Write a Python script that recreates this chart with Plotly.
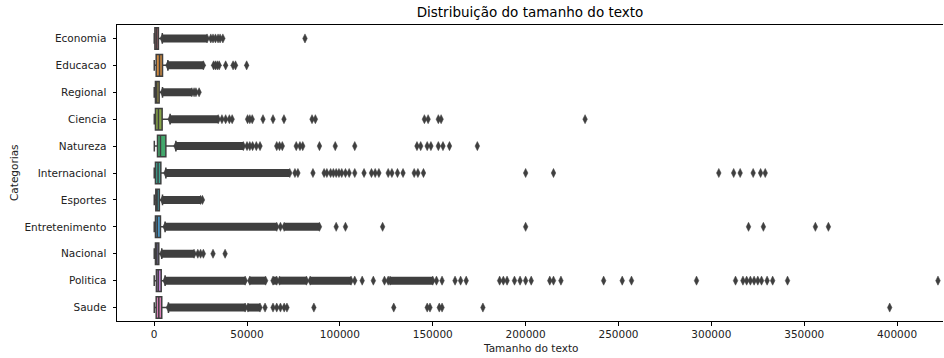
import plotly.graph_objects as go

# Categories, top to bottom
categories = ["Economia", "Educacao", "Regional", "Ciencia", "Natureza", "Internacional",
              "Esportes", "Entretenimento", "Nacional", "Politica", "Saude"]

# Box statistics (text length, characters)
q1 = [400, 1100, 700, 700, 1800, 700, 900, 700, 700, 1200, 1100]
median = [1300, 2900, 1400, 2300, 3400, 2100, 1600, 1700, 1500, 2200, 2500]
q3 = [2300, 4500, 2700, 4300, 6300, 3600, 2800, 3400, 2500, 3800, 4100]
whisker_lo = [50, 60, 40, 80, 90, 50, 60, 40, 50, 40, 70]
whisker_hi = [4400, 7400, 4500, 8600, 11700, 6300, 4500, 5900, 4100, 5900, 7700]

# Stretches where outliers overlap into a continuous band: (start, end)
dense_runs = [
    [(4400, 28500)],
    [(7400, 26500)],
    [(4500, 20300)],
    [(8600, 34500)],
    [(11700, 48000)],
    [(6300, 73000)],
    [(4500, 25000)],
    [(5900, 66000), (70000, 89000)],
    [(4100, 21500)],
    [(5900, 49000), (51500, 60000), (64000, 66000), (67500, 82000), (84000, 106000), (127000, 150000)],
    [(7700, 49000), (50500, 57000)],
]

# Individual outliers
outliers = [
    [30500, 31700, 33000, 34400, 35500, 37000, 81200],
    [32000, 33000, 34000, 35000, 38500, 42500, 43800, 49800],
    [21500, 22500, 24200],
    [36500, 38500, 40500, 42000, 50300, 51500, 52800, 58600, 64000, 69900, 85000, 86800,
     145500, 147500, 153000, 154500, 232000],
    [50000, 51500, 53000, 55000, 57000, 66000, 67500, 69000, 76500, 78500, 80000, 89000,
     97500, 108000, 141500, 143500, 147000, 149000, 153000, 155500, 159000, 174000],
    [75800, 77400, 85500, 91500, 93000, 95000, 96500, 98000, 99500, 101000, 103000, 105000,
     108000, 113000, 117000, 119000, 121000, 126000, 128000, 131000, 134000, 140000, 142000,
     145000, 200000, 215000, 304000, 312000, 315500, 322500, 326500, 329000],
    [26000],
    [68000, 98000, 103000, 123000, 200000, 320000, 328000, 356000, 363000],
    [23500, 25000, 26500, 31700, 38200],
    [108000, 112000, 118000, 124000, 126000, 152000, 155000, 162000, 165000, 168000, 186000,
     188000, 190000, 194000, 197000, 200000, 203000, 213000, 215000, 219000, 242000, 252000,
     257000, 292000, 313000, 317000, 319000, 321000, 323000, 325000, 327000, 330000, 333000,
     341000, 422000],
    [59700, 64000, 66000, 68000, 70000, 71500, 86000, 129000, 147000, 148500, 153500, 155000,
     177000, 396000],
]

box_colors = ["#d8737f", "#cf8a40", "#a59a45", "#87a547", "#43a86c", "#3fa592",
              "#45a0ae", "#4b9acb", "#9f8bd6", "#c486d8", "#d97fb6"]

x_ticks = [0, 50000, 100000, 150000, 200000, 250000, 300000, 350000, 400000]

GRAY = "#3f3f3f"
FONT = "DejaVu Sans"
TICK_SIZE = 10.5

fig = go.Figure()

for i, cat in enumerate(categories):
    fig.add_trace(go.Box(
        y=[cat], q1=[q1[i]], median=[median[i]], q3=[q3[i]],
        lowerfence=[whisker_lo[i]], upperfence=[whisker_hi[i]],
        orientation="h", boxpoints=False, width=0.8, whiskerwidth=0.5,
        fillcolor=box_colors[i], line=dict(color=GRAY, width=1.5),
        showlegend=False, hoverinfo="skip",
    ))

    # dense outlier bands
    bx, by = [], []
    ex, ey = [], []
    for s, e in dense_runs[i]:
        bx += [s, e, None]
        by += [cat, cat, None]
        ex += [s, e]
        ey += [cat, cat]
    fig.add_trace(go.Scatter(
        x=bx, y=by, mode="lines", line=dict(color=GRAY, width=8),
        showlegend=False, hoverinfo="skip",
    ))
    fig.add_trace(go.Scatter(
        x=ex + outliers[i], y=ey + [cat] * len(outliers[i]), mode="markers",
        marker=dict(symbol="diamond-tall", size=6.5, color=GRAY,
                    line=dict(color=GRAY, width=0.5)),
        showlegend=False, hoverinfo="skip",
    ))

n = len(categories)
fig.update_layout(
    width=944, height=358,
    margin=dict(l=117, r=1, t=25, b=37),
    plot_bgcolor="white", paper_bgcolor="white",
    font=dict(family=FONT, size=TICK_SIZE, color="black"),
    title=dict(text="Distribuição do tamanho do texto", x=0.5, xref="paper",
               y=1 - 12 / 358, yref="container", xanchor="center", yanchor="middle",
               font=dict(size=13.5, color="black", family=FONT)),
    xaxis=dict(range=[-20000, 424700], tickvals=x_ticks,
               ticktext=[str(v) for v in x_ticks], showgrid=False, zeroline=False,
               showline=True, linecolor="black", linewidth=1, mirror=True,
               ticks="outside", ticklen=3.5, tickcolor="black",
               tickfont=dict(size=TICK_SIZE, color="#222")),
    yaxis=dict(categoryorder="array", categoryarray=categories,
               range=[n - 0.5, -0.5],
               showgrid=False, zeroline=False, showline=True, linecolor="black",
               linewidth=1, ticks="outside", ticklen=3.5, tickcolor="black",
               ticklabelstandoff=4,
               tickfont=dict(size=TICK_SIZE, color="#222")),
    annotations=[
        dict(text="Tamanho do texto", x=0.5, xref="paper", y=-27 / 296, yref="paper",
             showarrow=False, xanchor="center", yanchor="middle",
             font=dict(size=TICK_SIZE, color="#222")),
        dict(text="Categorias", x=-103 / 826, xref="paper", y=0.5, yref="paper",
             showarrow=False, xanchor="center", yanchor="middle", textangle=-90,
             font=dict(size=TICK_SIZE, color="#222")),
    ],
)

fig.write_html("out.html")
